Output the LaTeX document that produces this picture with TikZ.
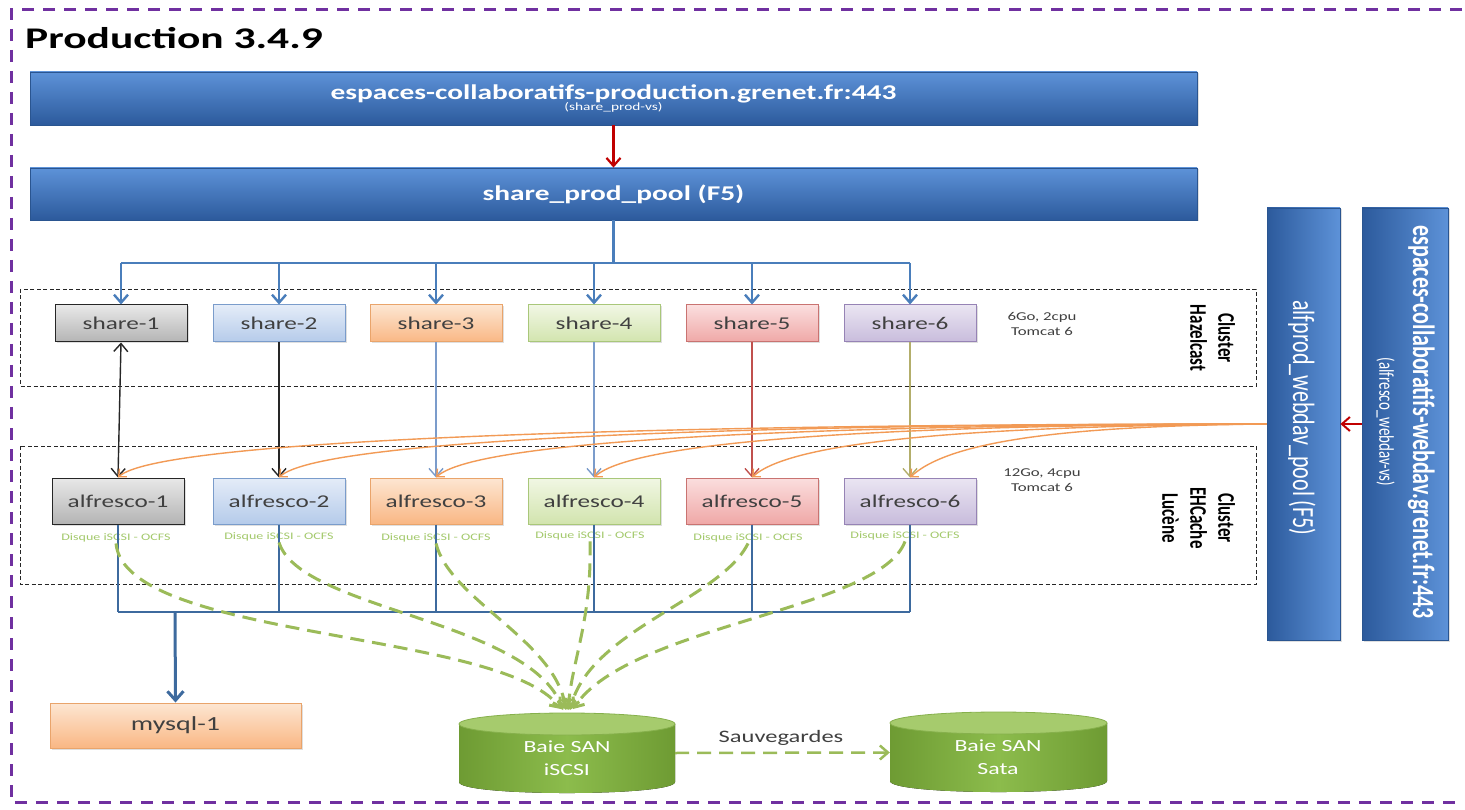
\documentclass[tikz,border=0pt]{standalone}
\usepackage{fontspec}
\setmainfont{Carlito}
\usepackage{graphicx}
\usetikzlibrary{arrows.meta,shadows}
\newcommand{\hstr}[1]{\scalebox{1.4}[1]{#1}}
\newcommand{\vstr}[1]{\scalebox{1}[1.4]{#1}}
\newcommand{\myfs}[2]{\fontsize{#1}{#2}\selectfont}
\definecolor{bnTop}{HTML}{5D92D8}
\definecolor{bnMid}{HTML}{3B6EB6}
\definecolor{bnBot}{HTML}{2C5A9C}
\definecolor{bnDraw}{HTML}{2A5590}
\definecolor{conBlue}{HTML}{4A7EBB}
\definecolor{busBlue}{HTML}{3D6A9E}
\definecolor{conRed}{HTML}{C00000}
\definecolor{orangeL}{HTML}{F29A55}
\definecolor{greenL}{HTML}{9BBB59}
\definecolor{greenT}{HTML}{A3C96B}
\definecolor{frameP}{HTML}{7030A0}
\definecolor{lnSteel}{HTML}{7B9CCB}
\definecolor{lnRed}{HTML}{C0504D}
\definecolor{lnOlive}{HTML}{B3AE6B}
\definecolor{gTop}{HTML}{E8E8E8}\definecolor{gBot}{HTML}{B4B4B4}\definecolor{gDr}{HTML}{262626}
\definecolor{bTop}{HTML}{E4ECF8}\definecolor{bBot}{HTML}{B5CBEA}\definecolor{bDr}{HTML}{7A9CCB}
\definecolor{oTop}{HTML}{FDE6D2}\definecolor{oBot}{HTML}{F9B784}\definecolor{oDr}{HTML}{E9A46B}
\definecolor{lTop}{HTML}{F1F7E4}\definecolor{lBot}{HTML}{D2E4AE}\definecolor{lDr}{HTML}{A9C77A}
\definecolor{rTop}{HTML}{FBDEDE}\definecolor{rBot}{HTML}{EFA8A7}\definecolor{rDr}{HTML}{C97371}
\definecolor{pTop}{HTML}{EAE5F2}\definecolor{pBot}{HTML}{C8BCDC}\definecolor{pDr}{HTML}{9683B5}
\definecolor{cylL}{HTML}{6E9B33}\definecolor{cylM}{HTML}{8CBC4C}\definecolor{cylTop}{HTML}{A6CB6D}\definecolor{cylEdge}{HTML}{86B04C}
\begin{document}
\begin{tikzpicture}[x=1pt,y=-1pt,
  tipA/.style={-{Straight Barb[length=8pt,width=14pt]}},
  tipB/.style={-{Straight Barb[length=8pt,width=14pt]}},
  tipO/.style={-{Straight Barb[length=6pt,width=11pt]}},
  shad/.style={drop shadow={opacity=0.25,shadow xshift=1.5pt,shadow yshift=-1.5pt}},
  srv/.style={draw, rectangle, inner sep=0pt, line width=1pt, minimum width=132pt, shad},
  sharebox/.style={srv, minimum height=37pt, font=\myfs{18}{21}, text=black!75},
  alfbox/.style={srv, minimum height=46pt, font=\myfs{18}{21}, text=black!75},
  cgray/.style={top color=gTop, bottom color=gBot, draw=gDr},
  cblue/.style={top color=bTop, bottom color=bBot, draw=bDr},
  corange/.style={top color=oTop, bottom color=oBot, draw=oDr},
  cgreen/.style={top color=lTop, bottom color=lBot, draw=lDr},
  cred/.style={top color=rTop, bottom color=rBot, draw=rDr},
  cpurple/.style={top color=pTop, bottom color=pBot, draw=pDr},
  banner/.style={rectangle, draw=bnDraw, line width=0.8pt, top color=bnTop, middle color=bnMid, bottom color=bnBot, inner sep=0pt, text=white, shad},
  vbar/.style={rectangle, draw=bnDraw, line width=0.8pt, left color=bnBot, middle color=bnMid, right color=bnTop, inner sep=0pt, shad},
  disque/.style={font=\myfs{10}{12}, text=greenT, inner sep=1pt},
  spec/.style={font=\myfs{12}{15}, text=black!75, align=center},
  cluster/.style={draw=black!85, dashed, dash pattern=on 4pt off 2.5pt, line width=0.9pt},
  bluecon/.style={draw=conBlue, line width=2.4pt},
  bluebot/.style={draw=busBlue, line width=2.4pt},
  orangecon/.style={draw=orangeL, line width=1.4pt, tipO},
  greendash/.style={draw=greenL, line width=3pt, dash pattern=on 14pt off 8pt, tipB}
]
\useasboundingbox (0,0) rectangle (1465,810);
\fill[white] (0,0) rectangle (1465,810);

% outer frame
\draw[frameP, line width=3pt, dash pattern=on 12pt off 9pt] (1462,10) -- (11,10) -- (11,802) -- (1462,802);

% title
\node[anchor=west, font=\myfs{30}{34}\bfseries, inner sep=0pt] (title) at (25,38) {\scalebox{1.45}[1]{Production 3.4.9}};

% banners
\node[banner, minimum width=1167pt, minimum height=53pt, align=center] (vs) at (613.5,98.5)
  {\myfs{21}{25}\bfseries\hstr{espaces-collaboratifs-production.grenet.fr:443}\\[-1pt]\myfs{11}{13}\hstr{(share\_prod-vs)}};
\node[banner, minimum width=1167pt, minimum height=52pt, font=\myfs{21}{25}\bfseries] (pool) at (613.5,194) {\hstr{share\_prod\_pool (F5)}};
\draw[conRed, line width=2.2pt, tipA] (vs.south) -- (pool.north);

% cluster frames
\draw[cluster] (20,289) rectangle (1256,386);
\draw[cluster] (20,446) rectangle (1256,584);

% share row
\node[sharebox, cgray]   (s1) at (121,323.5) {\hstr{share-1}};
\node[sharebox, cblue]   (s2) at (279,323.5) {\hstr{share-2}};
\node[sharebox, corange] (s3) at (436,323.5) {\hstr{share-3}};
\node[sharebox, cgreen]  (s4) at (594,323.5) {\hstr{share-4}};
\node[sharebox, cred]    (s5) at (752,323.5) {\hstr{share-5}};
\node[sharebox, cpurple] (s6) at (910,323.5) {\hstr{share-6}};

% alfresco row
\node[alfbox, cgray]   (a1) at (118,501) {\hstr{alfresco-1}};
\node[alfbox, cblue]   (a2) at (279,501) {\hstr{alfresco-2}};
\node[alfbox, corange] (a3) at (436,501) {\hstr{alfresco-3}};
\node[alfbox, cgreen]  (a4) at (594,501) {\hstr{alfresco-4}};
\node[alfbox, cred]    (a5) at (752,501) {\hstr{alfresco-5}};
\node[alfbox, cpurple] (a6) at (910,501) {\hstr{alfresco-6}};

% specs and cluster names
\node[spec] (spec1) at (1042,324) {\hstr{6Go, 2cpu}\\\hstr{Tomcat 6}};
\node[spec] (spec2) at (1042,480) {\hstr{12Go, 4cpu}\\\hstr{Tomcat 6}};
\node[rotate=-90, font=\myfs{17}{20}\bfseries, inner sep=0pt] (clh) at (1210,338)
  {\vstr{\begin{tabular}{@{}c@{}}Cluster\\Hazelcast\end{tabular}}};
\node[rotate=-90, font=\myfs{17}{20}\bfseries, inner sep=0pt] (cle) at (1196,518)
  {\vstr{\begin{tabular}{@{}c@{}}Cluster\\EHCache\\Lucène\end{tabular}}};

% right bars
\node[vbar, minimum width=73pt, minimum height=432pt] (bar1) at (1303.5,424) {};
\node[vbar, minimum width=86pt, minimum height=432pt] (bar2) at (1405,424) {};
\node[rotate=-90, text=white, font=\myfs{22}{26}, inner sep=0pt] (t1) at (1302,418)
  {\vstr{alfprod\_webdav\_pool (F5)}};
\node[rotate=-90, text=white, font=\myfs{22}{24}, inner sep=0pt] (t2) at (1403,422)
  {\vstr{\begin{tabular}{@{}c@{}}\myfs{22}{24}\bfseries espaces-collaboratifs-webdav.grenet.fr:443\\\myfs{15}{18}(alfresco\_webdav-vs)\end{tabular}}};
\draw[conRed, line width=2pt, tipA] (bar2.west) -- (bar1.east);

% share pool bus
\coordinate (busTop) at (612,263);
\draw[bluecon] (pool.south) -- (pool.south |- busTop);
\draw[bluecon] (s1.north |- busTop) -- (s6.north |- busTop);
\foreach \i in {1,...,6}{\draw[bluecon, tipA] (s\i.north |- busTop) -- (s\i.north);}

% share -> alfresco
\draw[black!85, line width=1.4pt, {Straight Barb[length=8pt,width=14pt]}-{Straight Barb[length=8pt,width=14pt]}] (s1.south) -- (a1.north);
\draw[black!85, line width=1.4pt, tipA] (s2.south) -- (a2.north);
\draw[lnSteel, line width=1.4pt, tipA] (s3.south) -- (a3.north);
\draw[lnSteel, line width=1.4pt, tipA] (s4.south) -- (a4.north);
\draw[lnRed, line width=1.4pt, tipA] (s5.south) -- (a5.north);
\draw[lnOlive, line width=1.4pt, tipA] (s6.south) -- (a6.north);

% webdav pool -> alfresco
\draw[orangecon] (bar1.west) .. controls (635,424) and (158,440) .. (a1.north);
\draw[orangecon] (bar1.west) .. controls (724,424) and (319,440) .. (a2.north);
\draw[orangecon] (bar1.west) .. controls (810,425) and (476,440) .. (a3.north);
\draw[orangecon] (bar1.west) .. controls (897,425) and (634,440) .. (a4.north);
\draw[orangecon] (bar1.west) .. controls (984,426) and (792,440) .. (a5.north);
\draw[orangecon] (bar1.west) .. controls (1071,426) and (950,440) .. (a6.north);

% disk labels
\node[disque] (d1) at (116,538) {\hstr{Disque iSCSI - OCFS}};
\node[disque] (d2) at (279,537) {\hstr{Disque iSCSI - OCFS}};
\node[disque] (d3) at (436,538) {\hstr{Disque iSCSI - OCFS}};
\node[disque] (d4) at (590,536) {\hstr{Disque iSCSI - OCFS}};
\node[disque] (d5) at (748,538) {\hstr{Disque iSCSI - OCFS}};
\node[disque] (d6) at (905,536) {\hstr{Disque iSCSI - OCFS}};

% bottom bus to mysql
\coordinate (busBot) at (175,612);
\foreach \i in {1,...,6}{\draw[bluebot] (a\i.south) -- (a\i.south |- busBot);}
\draw[bluebot] (a1.south |- busBot) -- (a6.south |- busBot);

\node[srv, corange, minimum width=251pt, minimum height=45pt, font=\myfs{20}{24}, text=black!75] (mysql) at (175.5,725.5) {\hstr{mysql-1}};
\draw[bluebot, line width=3pt, -{Straight Barb[length=9pt,width=16pt]}] (busBot) -- (mysql.north);

% SAN cylinders
\node[minimum width=216pt, minimum height=80pt, inner sep=0pt] (sanI) at (567,753) {};
\node[minimum width=217pt, minimum height=80pt, inner sep=0pt] (sanS) at (998.5,752.5) {};
\fill[left color=cylL, right color=cylL, middle color=cylM] (459,724) -- (459,782) .. controls (459,796.7) and (675,796.7) .. (675,782) -- (675,724) -- cycle;
\fill[cylTop] (567,724) ellipse [x radius=108pt, y radius=11pt];
\draw[cylEdge, line width=0.8pt] (567,724) ellipse [x radius=108pt, y radius=11pt];
\fill[left color=cylL, right color=cylL, middle color=cylM] (890,723) -- (890,781) .. controls (890,795.7) and (1107,795.7) .. (1107,781) -- (1107,723) -- cycle;
\fill[cylTop] (998.5,723) ellipse [x radius=108.5pt, y radius=11pt];
\draw[cylEdge, line width=0.8pt] (998.5,723) ellipse [x radius=108.5pt, y radius=11pt];
\node[text=white, align=center, font=\myfs{17}{23}] (tI) at (567,758) {\hstr{Baie SAN}\\\hstr{iSCSI}};
\node[text=white, align=center, font=\myfs{17}{23}] (tS) at (998,757) {\hstr{Baie SAN}\\\hstr{Sata}};

% green storage links
\draw[greendash] (d1.south) .. controls (125,640) and (500,630) .. (561,709);
\draw[greendash] (d2.south) .. controls (300,610) and (530,620) .. (563,710);
\draw[greendash] (d3.south) .. controls (450,600) and (555,640) .. (566,710);
\draw[greendash] (d4.south) .. controls (592,620) and (572,660) .. (568,710);
\draw[greendash] (d5.south) .. controls (720,600) and (590,630) .. (570,710);
\draw[greendash] (d6.south) .. controls (880,610) and (630,625) .. (573,709);

\draw[greendash, line width=2.5pt] (sanI.east) -- (sanS.west);
\node[font=\myfs{17.5}{20}, text=black!75] (sv) at (781,738) {\hstr{Sauvegardes}};
\end{tikzpicture}
\end{document}
